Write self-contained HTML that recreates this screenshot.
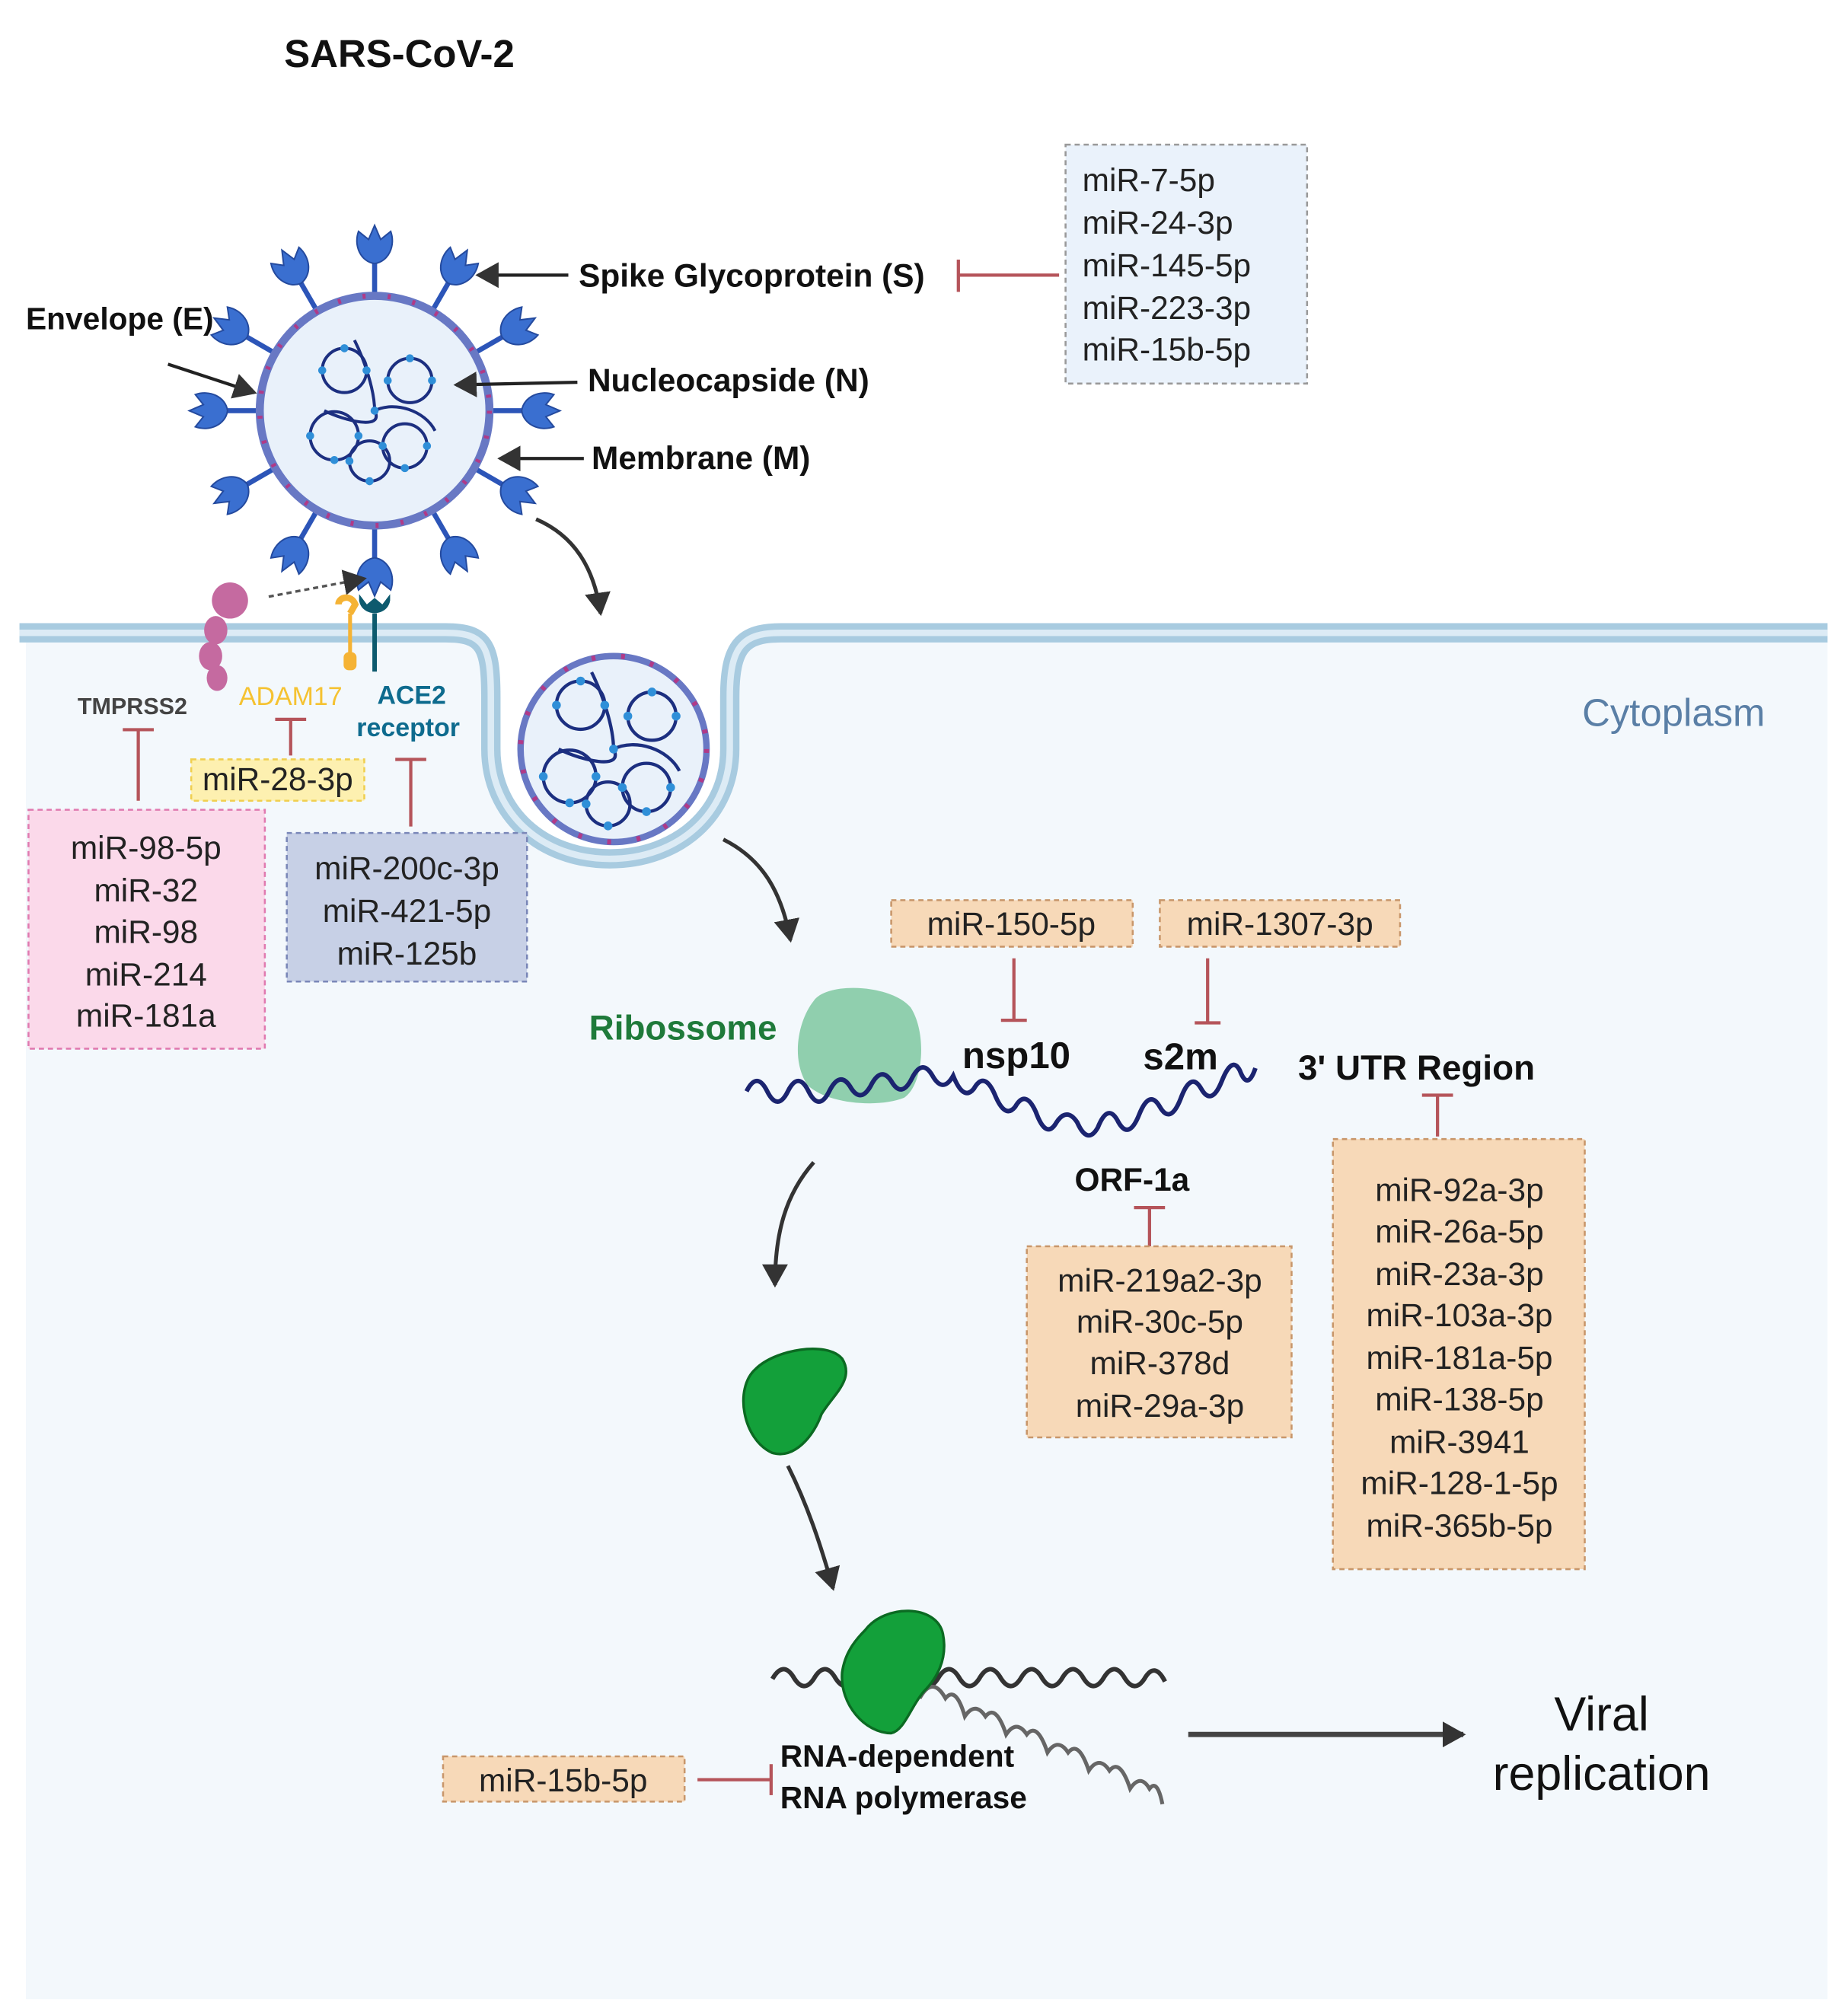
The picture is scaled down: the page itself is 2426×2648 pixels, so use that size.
<!DOCTYPE html>
<html><head><meta charset="utf-8"><style>
html,body{margin:0;padding:0;background:#fff}
svg{display:block}
text{font-family:"Liberation Sans",Arial,sans-serif}
.b{font-weight:bold;fill:#111}
.m{font-size:25px;fill:#222;text-anchor:middle}
</style></head><body>
<svg width="2426" height="2648" viewBox="0 0 1430 1561" xmlns="http://www.w3.org/2000/svg">
<defs>
<marker id="ah2" markerWidth="20" markerHeight="20" refX="16" refY="10" orient="auto" markerUnits="userSpaceOnUse"><path d="M0,0 L18,10 L0,20Z" fill="#333"/></marker>
<g id="spike">
<line x1="0" y1="-112" x2="0" y2="-150" stroke="#2c55b8" stroke-width="5"/>
<path d="M0,-146 C-14,-148 -21,-164 -16,-178 L-6,-170 L0,-184 L6,-170 L16,-178 C21,-164 14,-148 0,-146Z" fill="#3a6fd0" stroke="#244a9e" stroke-width="1.5"/>
</g>
<g id="capsid" fill="none" stroke="#1c2f80" stroke-width="3">
<circle cx="-30" cy="-40" r="22"/><circle cx="35" cy="-30" r="22"/><circle cx="-40" cy="25" r="24"/><circle cx="30" cy="35" r="22"/><circle cx="-5" cy="50" r="20"/>
<path d="M-20,-70 C-10,-50 0,-20 0,0 C10,20 -30,10 -50,0 M0,0 C20,-10 50,0 60,20"/>
<g fill="#2f8fd8" stroke="none">
<circle cx="-30" cy="-62" r="4"/><circle cx="-52" cy="-40" r="4"/><circle cx="-8" cy="-40" r="4"/><circle cx="35" cy="-52" r="4"/><circle cx="57" cy="-30" r="4"/><circle cx="13" cy="-30" r="4"/><circle cx="-64" cy="25" r="4"/><circle cx="-16" cy="25" r="4"/><circle cx="-40" cy="49" r="4"/><circle cx="52" cy="35" r="4"/><circle cx="30" cy="57" r="4"/><circle cx="8" cy="35" r="4"/><circle cx="-5" cy="70" r="4"/><circle cx="-25" cy="50" r="4"/><circle cx="0" cy="0" r="4"/></g>
</g>
</defs>

<path d="M15,490 H345 C375,490 380,500 380,540 L380,580 C380,630 420,665 472,665 C525,665 565,630 565,580 L565,540 C565,500 575,490 605,490 H1415 V1548 H20 V490Z" fill="#f3f8fc"/>
<path d="M15,490 H345 C375,490 380,500 380,540 L380,580 C380,630 420,665 472,665 C525,665 565,630 565,580 L565,540 C565,500 575,490 605,490 H1415" fill="none" stroke="#a8cbe0" stroke-width="15"/>
<path d="M15,490 H345 C375,490 380,500 380,540 L380,580 C380,630 420,665 472,665 C525,665 565,630 565,580 L565,540 C565,500 575,490 605,490 H1415" fill="none" stroke="#dcebf5" stroke-width="5"/>

<text x="220" y="52" class="b" font-size="30">SARS-CoV-2</text>

<g transform="translate(290,318) scale(0.78)">
<use href="#spike"/><use href="#spike" transform="rotate(30)"/><use href="#spike" transform="rotate(60)"/><use href="#spike" transform="rotate(90)"/><use href="#spike" transform="rotate(120)"/><use href="#spike" transform="rotate(150)"/><use href="#spike" transform="rotate(180)"/><use href="#spike" transform="rotate(210)"/><use href="#spike" transform="rotate(240)"/><use href="#spike" transform="rotate(270)"/><use href="#spike" transform="rotate(300)"/><use href="#spike" transform="rotate(330)"/>
<circle r="114" fill="#e9f1fa" stroke="#6878c4" stroke-width="8"/>
<circle r="114" fill="none" stroke="#b03a88" stroke-width="5" stroke-dasharray="3 22"/>
<use href="#capsid"/>
</g>

<g transform="translate(475,580)">
<circle r="72" fill="#e9f1fa" stroke="#6878c4" stroke-width="5"/>
<circle r="72" fill="none" stroke="#b03a88" stroke-width="4" stroke-dasharray="3 20"/>
<g transform="scale(0.85)"><use href="#capsid"/></g>
</g>

<line x1="440" y1="213" x2="370" y2="213" stroke="#222" stroke-width="2.5" marker-end="url(#ah2)"/>
<text x="448" y="222" class="b" font-size="25">Spike Glycoprotein (S)</text>
<text x="20" y="255" class="b" font-size="24">Envelope (E)</text>
<line x1="130" y1="282" x2="197" y2="304" stroke="#222" stroke-width="2.5" marker-end="url(#ah2)"/>
<line x1="447" y1="296" x2="353" y2="298" stroke="#222" stroke-width="2.5" marker-end="url(#ah2)"/>
<text x="455" y="303" class="b" font-size="25">Nucleocapside (N)</text>
<line x1="452" y1="355" x2="387" y2="355" stroke="#222" stroke-width="2.5" marker-end="url(#ah2)"/>
<text x="458" y="363" class="b" font-size="25">Membrane (M)</text>

<rect x="825" y="112" width="187" height="185" fill="#eaf2fb" stroke="#999" stroke-width="1.5" stroke-dasharray="4 3"/>
<text x="838" y="148" font-size="25" fill="#222">miR-7-5p</text>
<text x="838" y="181" font-size="25" fill="#222">miR-24-3p</text>
<text x="838" y="214" font-size="25" fill="#222">miR-145-5p</text>
<text x="838" y="247" font-size="25" fill="#222">miR-223-3p</text>
<text x="838" y="279" font-size="25" fill="#222">miR-15b-5p</text>
<g stroke="#b5545a" stroke-width="2.5"><line x1="820" y1="213" x2="742" y2="213"/><line x1="742" y1="201" x2="742" y2="226"/></g>

<path d="M415,402 C445,415 460,440 465,475" fill="none" stroke="#333" stroke-width="3" marker-end="url(#ah2)"/>
<line x1="208" y1="462" x2="282" y2="448" stroke="#555" stroke-width="2" stroke-dasharray="4 3" marker-end="url(#ah2)"/>

<g fill="#c56aa0"><circle cx="178" cy="465" r="14"/><ellipse cx="167" cy="488" rx="9" ry="11"/><ellipse cx="163" cy="508" rx="9" ry="11"/><ellipse cx="168" cy="525" rx="8" ry="10"/></g>
<line x1="271" y1="475" x2="271" y2="515" stroke="#f5b335" stroke-width="3"/>
<rect x="266" y="505" width="10" height="14" rx="4" fill="#f5b335"/>
<path d="M262,468 C262,462 272,460 275,468 L271,475" fill="none" stroke="#f5b335" stroke-width="5"/>
<line x1="290" y1="475" x2="290" y2="520" stroke="#0d5a6e" stroke-width="3.5"/>
<path d="M278,460 L278,465 C280,478 300,478 302,465 L302,460 L296,468 L290,463 L284,468Z" fill="#0d5a6e"/>

<text x="60" y="553" font-size="18" fill="#444" font-weight="bold">TMPRSS2</text>
<text x="185" y="546" font-size="20" fill="#f5c231">ADAM17</text>
<text x="292" y="545" font-size="20" fill="#0e6b8e" font-weight="bold">ACE2</text>
<text x="276" y="570" font-size="20" fill="#0e6b8e" font-weight="bold">receptor</text>
<g stroke="#b5545a" stroke-width="2.5">
<line x1="107" y1="620" x2="107" y2="565"/><line x1="95" y1="565" x2="119" y2="565"/>
<line x1="225" y1="585" x2="225" y2="557"/><line x1="213" y1="557" x2="237" y2="557"/>
<line x1="318" y1="640" x2="318" y2="588"/><line x1="306" y1="588" x2="330" y2="588"/>
</g>
<rect x="148" y="588" width="134" height="32" fill="#fdf0b0" stroke="#f0cf50" stroke-width="1.5" stroke-dasharray="4 3"/>
<text x="215" y="612" class="m" font-size="23">miR-28-3p</text>
<rect x="22" y="627" width="183" height="185" fill="#fbd9ea" stroke="#e07ab0" stroke-width="1.5" stroke-dasharray="4 3"/>
<text x="113" y="665" class="m">miR-98-5p</text><text x="113" y="698" class="m">miR-32</text><text x="113" y="730" class="m">miR-98</text><text x="113" y="763" class="m">miR-214</text><text x="113" y="795" class="m">miR-181a</text>
<rect x="222" y="645" width="186" height="115" fill="#c7d0e6" stroke="#7a87b8" stroke-width="1.5" stroke-dasharray="4 3"/>
<text x="315" y="681" class="m">miR-200c-3p</text><text x="315" y="714" class="m">miR-421-5p</text><text x="315" y="747" class="m">miR-125b</text>

<text x="1225" y="562" font-size="30" fill="#5a7fa6">Cytoplasm</text>

<path d="M560,650 C590,665 605,690 612,728" fill="none" stroke="#333" stroke-width="3" marker-end="url(#ah2)"/>

<rect x="690" y="697" width="187" height="36" fill="#f7d9b8" stroke="#c8966a" stroke-width="1.5" stroke-dasharray="4 3"/>
<text x="783" y="724" class="m">miR-150-5p</text>
<rect x="898" y="697" width="186" height="36" fill="#f7d9b8" stroke="#c8966a" stroke-width="1.5" stroke-dasharray="4 3"/>
<text x="991" y="724" class="m">miR-1307-3p</text>
<g stroke="#b5545a" stroke-width="2.5">
<line x1="785" y1="742" x2="785" y2="790"/><line x1="775" y1="790" x2="795" y2="790"/>
<line x1="935" y1="742" x2="935" y2="792"/><line x1="925" y1="792" x2="945" y2="792"/>
</g>

<path d="M630,775 C640,760 690,762 705,780 C718,800 715,840 700,850 C680,858 640,855 625,840 C612,820 618,790 630,775Z" fill="#7ec8a0" opacity="0.85"/>
<text x="456" y="805" font-size="27" fill="#1f7a3a" font-weight="bold">Ribossome</text>
<path d="M578,845 q8,-16 16,0 q8,16 16,0 q8,-16 16,0 q8,16 16,0 q8,-16 16,-4 q8,14 16,0 q8,-16 16,-4 q8,14 16,-2 q8,-16 16,-2 q8,14 16,0 q8,20 16,10 q8,-14 16,4 q8,20 16,10 q8,-14 16,4 q8,22 16,8 q8,-12 16,0 q8,18 16,4 q8,-20 16,-4 q8,14 16,-6 q8,-20 16,-6 q8,14 16,-6 q8,-22 16,-8 q8,14 16,-6 q8,-20 14,-8 q6,16 12,-2" fill="none" stroke="#1b2470" stroke-width="3.5"/>
<text x="745" y="827" class="b" font-size="29">nsp10</text>
<text x="885" y="828" class="b" font-size="29">s2m</text>
<text x="1005" y="836" class="b" font-size="27">3' UTR Region</text>
<text x="832" y="922" class="b" font-size="25">ORF-1a</text>
<g stroke="#b5545a" stroke-width="2.5">
<line x1="890" y1="965" x2="890" y2="935"/><line x1="878" y1="935" x2="902" y2="935"/>
<line x1="1113" y1="880" x2="1113" y2="848"/><line x1="1101" y1="848" x2="1125" y2="848"/>
</g>
<rect x="795" y="965" width="205" height="148" fill="#f7d9b8" stroke="#c8966a" stroke-width="1.5" stroke-dasharray="4 3"/>
<text x="898" y="1000" class="m">miR-219a2-3p</text><text x="898" y="1032" class="m">miR-30c-5p</text><text x="898" y="1064" class="m">miR-378d</text><text x="898" y="1097" class="m">miR-29a-3p</text>
<rect x="1032" y="882" width="195" height="333" fill="#f7d9b8" stroke="#c8966a" stroke-width="1.5" stroke-dasharray="4 3"/>
<text x="1130" y="930" class="m">miR-92a-3p</text><text x="1130" y="962" class="m">miR-26a-5p</text><text x="1130" y="995" class="m">miR-23a-3p</text><text x="1130" y="1027" class="m">miR-103a-3p</text><text x="1130" y="1060" class="m">miR-181a-5p</text><text x="1130" y="1092" class="m">miR-138-5p</text><text x="1130" y="1125" class="m">miR-3941</text><text x="1130" y="1157" class="m">miR-128-1-5p</text><text x="1130" y="1190" class="m">miR-365b-5p</text>

<path d="M630,900 C608,925 600,955 600,995" fill="none" stroke="#333" stroke-width="3" marker-end="url(#ah2)"/>
<path d="M585,1060 C600,1045 640,1038 652,1052 C662,1068 645,1080 636,1095 C630,1112 615,1130 598,1125 C575,1115 568,1075 585,1060Z" fill="#13a03a" stroke="#0b6a22" stroke-width="2"/>
<path d="M610,1135 C625,1165 635,1195 645,1230" fill="none" stroke="#333" stroke-width="3" marker-end="url(#ah2)"/>

<path d="M598,1300 q8,-14 16,-2 q8,14 16,2 q8,-14 16,-2 q8,14 16,2 q8,-14 16,-2 q8,14 16,2 q8,-14 16,-2 q8,14 16,2 q8,-14 16,-2 q8,14 16,2 q8,-14 16,-2 q8,14 16,2 q8,-14 16,-2 q8,14 16,2 q8,-14 16,-2 q8,14 16,2 q8,-14 16,-2 q8,14 16,2 q8,-14 16,2" fill="none" stroke="#333" stroke-width="3.5"/>
<path d="M712,1315 q10,-18 20,0 q8,-10 15,14 q8,-12 16,0 q8,-10 16,14 q8,-12 16,0 q8,-10 16,14 q8,-12 16,0 q8,-10 16,14 q8,-12 16,0 q8,-10 16,14 q8,-12 15,0 q6,-8 10,12" fill="none" stroke="#666" stroke-width="3"/>
<path d="M670,1262 C685,1242 725,1242 730,1265 C734,1285 725,1300 715,1310 C705,1322 700,1340 690,1342 C670,1342 650,1320 652,1295 C654,1280 662,1270 670,1262Z" fill="#13a03a" stroke="#0b6a22" stroke-width="2"/>
<text x="604" y="1368" class="b" font-size="24">RNA-dependent</text>
<text x="604" y="1400" class="b" font-size="24">RNA polymerase</text>
<rect x="343" y="1360" width="187" height="35" fill="#f7d9b8" stroke="#c8966a" stroke-width="1.5" stroke-dasharray="4 3"/>
<text x="436" y="1387" class="m">miR-15b-5p</text>
<g stroke="#b5545a" stroke-width="2.5"><line x1="540" y1="1378" x2="597" y2="1378"/><line x1="597" y1="1366" x2="597" y2="1390"/></g>
<line x1="920" y1="1343" x2="1133" y2="1343" stroke="#444" stroke-width="4" marker-end="url(#ah2)"/>
<text x="1240" y="1340" font-size="37" fill="#111" text-anchor="middle">Viral</text>
<text x="1240" y="1386" font-size="37" fill="#111" text-anchor="middle">replication</text>
</svg>
</body></html>
